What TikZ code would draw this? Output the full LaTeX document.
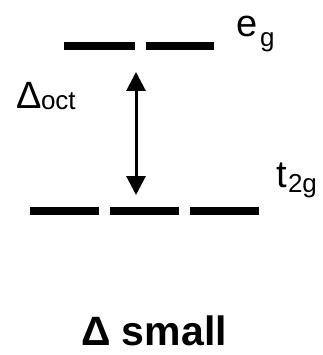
\documentclass[tikz,border=0pt]{standalone}
\usepackage{fontspec}
\setmainfont{Liberation Sans}
\usetikzlibrary{arrows.meta}
\begin{document}
\begin{tikzpicture}[x=1pt,y=-1pt,
  level/.style={line width=8pt},
  lbl/.style={anchor=base west,inner sep=0pt,outer sep=0pt},
  big/.style={font=\fontsize{38}{38}\selectfont},
  sub/.style={font=\fontsize{26}{26}\selectfont},
  gap/.style={line width=3pt,{Triangle[width=19pt,length=19pt]}-{Triangle[width=19pt,length=19pt]}}]
\useasboundingbox (0,0) rectangle (322,355);
% e_g levels
\coordinate (eg1a) at (64,46); \coordinate (eg1b) at (135,46);
\coordinate (eg2a) at (146,46); \coordinate (eg2b) at (214,46);
\draw[level] (eg1a) -- (eg1b);
\draw[level] (eg2a) -- (eg2b);
% t2g levels
\coordinate (t1a) at (30,211); \coordinate (t1b) at (99,211);
\coordinate (t2a) at (110,211); \coordinate (t2b) at (179,211);
\coordinate (t3a) at (190,211); \coordinate (t3b) at (259,211);
\draw[level] (t1a) -- (t1b);
\draw[level] (t2a) -- (t2b);
\draw[level] (t3a) -- (t3b);
% gap arrow
\coordinate (top) at (136,72);
\coordinate (bot) at (136,195);
\draw[gap] (bot) -- (top);
% labels
\node[lbl,big] (e) at (236,37) {e};
\node[lbl,sub] (g) at (260,47) {g};
\node[lbl,big] (D) at (16.5,109) {Δ};
\node[lbl,sub] (oct) at (41,110) {oct};
\node[lbl,big] (t) at (276,187) {t};
\node[lbl,sub] (tg) at (288,192) {2g};
\node[anchor=base,inner sep=0pt,font=\fontsize{41}{41}\selectfont\bfseries] (small) at (154,345) {Δ small};
\end{tikzpicture}
\end{document}
